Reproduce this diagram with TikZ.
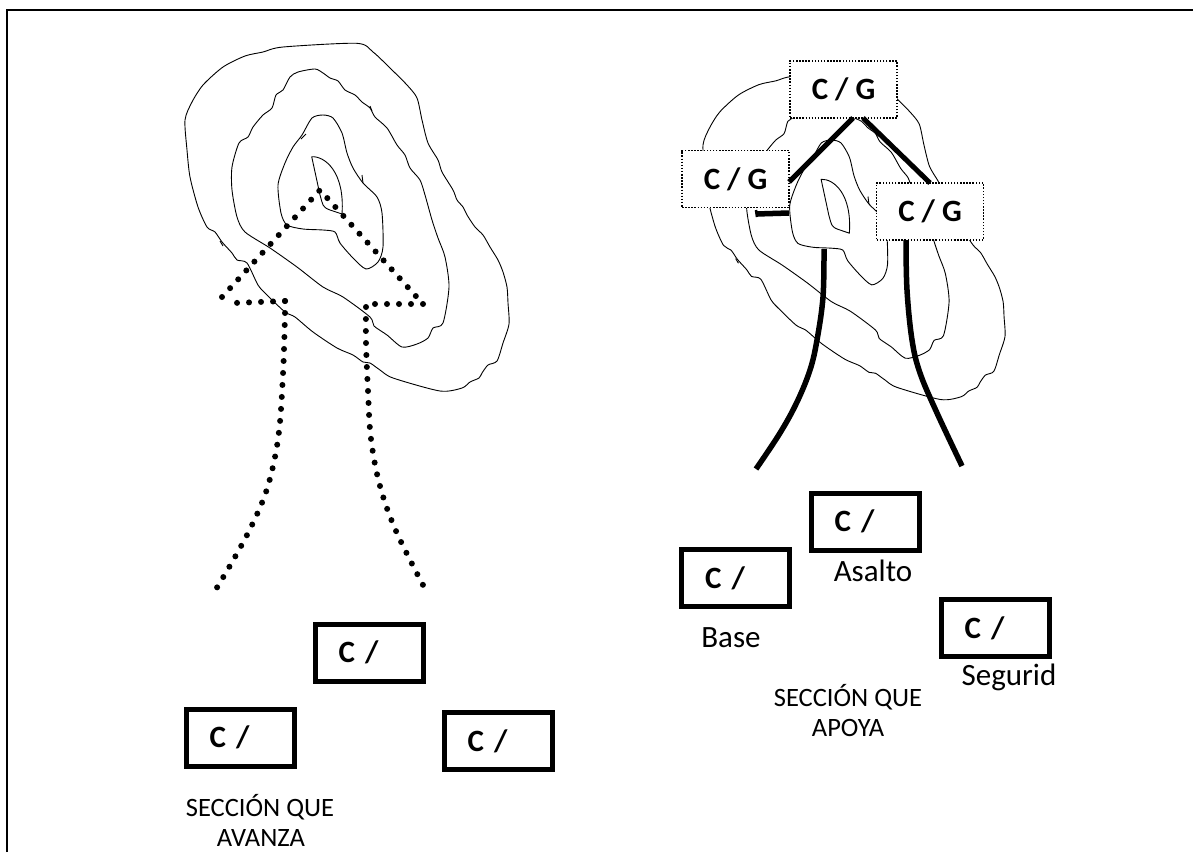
\documentclass[tikz,border=0pt]{standalone}
\usepackage{fontspec}
\setmainfont{Carlito}
\usetikzlibrary{calc}
\tikzset{
  contour/.style={draw=black,line width=0.9pt,line join=round},
  dotline/.style={draw=black,line width=6pt,line cap=round,dash pattern=on 0pt off 12pt},
  thick line/.style={draw=black,line width=5pt},
  cbox/.style={draw=black,fill=white,line width=5pt,minimum height=57pt,inner xsep=23.5pt,inner ysep=0pt,text width=61pt,align=left,outer sep=0pt,font=\fontsize{31}{31}\selectfont\bfseries},
  gbox/.style={draw=black,fill=white,line width=1.4pt,dash pattern=on 1.5pt off 1.6pt,minimum width=107pt,minimum height=57pt,inner sep=0pt,outer sep=0pt,font=\fontsize{31}{31}\selectfont\bfseries},
  lbl/.style={inner sep=0pt,font=\fontsize{31}{31}\selectfont},
  lblsmall/.style={inner sep=0pt,font=\fontsize{26.5}{26.5}\selectfont}
}
\newcommand\hillcontours{%
  \draw[contour] plot[smooth cycle,tension=.45] coordinates {(356.7,43.3) (373,52) (390,68) (407,85) (417,98) (422,120) (428,143) (438,160) (442,172) (453,190) (457,200) (463,207) (467,215) (475,227) (483,235) (490,247) (498,260) (503,272) (507,287) (508,303) (509,324) (503,343) (497,361) (488,365) (482,373) (479,378) (470,382) (462,388) (440,391) (393,378) (380,370) (370,363) (363,362) (353,355) (337,348) (313,332) (295,317) (285,312) (267,295) (258,285) (247,263) (237,260) (232,253) (222,242) (215,232) (207,227) (198,207) (190,177) (187,150) (185,120) (192,102) (203,85) (223,67) (245,56) (263,52) (283,47)};
  \draw[contour] plot[smooth cycle,tension=.45] coordinates {(315,69) (323,73) (330,78) (338,81) (345,90) (355,95) (362,102) (370,108) (375,117) (387,128) (397,145) (405,155) (410,168) (420,180) (425,195) (432,220) (438,238) (445,257) (449,287) (443,323) (433,328) (428,338) (417,344) (402,347) (387,335) (374,326) (370,317) (343,297) (323,287) (297,267) (270,248) (245,232) (237,217) (232,190) (232,167) (239,143) (248,137) (253,127) (263,115) (272,108) (276,95) (283,90) (290,77) (298,72)};
  \draw[contour] plot[smooth cycle,tension=.45] coordinates {(323,115) (333,118) (342,133) (347,153) (353,168) (363,183) (377,197) (382,213) (383,247) (378,262) (366,269) (353,258) (340,243) (335,232) (323,230) (303,229) (287,225) (281,213) (278,185) (285,163) (293,147) (302,135) (312,118)};
  \draw[contour] (311.7,156.7) .. controls (325,156) and (345,172) .. (342,214) -- (330,210) .. controls (322,207) and (323,205) .. (320,195) -- cycle;
  \draw[contour] (301,139) -- (306,134) (362,175) -- (363,183) (370,106) -- (372,111) (220,241) -- (223,246);
}
\begin{document}
\begin{tikzpicture}[x=1pt,y=-1pt]
\useasboundingbox (0,0) rectangle (1193,852);
% frame
\draw[line width=2pt,line cap=butt] (7,852) -- (7,9.5) -- (1193,9.5);

% left hill
\hillcontours

% right hill
\begin{scope}[x=.932pt,y=-.94pt,shift={(530.6pt,-32pt)}]
\hillcontours
\end{scope}

% dotted advance route
\coordinate (dA) at (216.7,588);
\coordinate (dB) at (285,301);
\coordinate (dC) at (225.7,303.3);
\coordinate (dD) at (222,297);
\coordinate (dE) at (320,190);
\coordinate (dF) at (423,304);
\coordinate (dG) at (375,304);
\coordinate (dH) at (366,307);
\coordinate (dI) at (423,585);
\draw[dotline] plot[smooth,tension=.6] coordinates {(dB) (285,314) (284,350) (283,374) (280,422) (275,457) (266,492) (252,525) (235,557) (dA)};
\draw[dotline] (dB) -- (dC);
\draw[dotline] (dD) -- (dE) -- (dF);
\draw[dotline] (dF) -- (dG);
\draw[dotline] plot[smooth,tension=.6] coordinates {(dH) (366,343) (368,391) (371,439) (380,486) (396,531) (dI)};

% lower left boxes
\node[cbox,minimum width=108pt] (a1) at (369,652.5) {C /};
\node[cbox,minimum width=108pt] (a2) at (240,737.5) {\raisebox{-2.5pt}{C /}};
\node[cbox,minimum width=108pt] (a3) at (498,741) {\raisebox{-4pt}{C /}};
\node[lblsmall] (t1) at (260,807) {SECCIÓN QUE};
\node[lblsmall] (t2) at (261,838) {AVANZA};

% C/G boxes
\node[gbox] (topG) at (843.5,89.5) {C / G};
\node[gbox] (leftG) at (735.5,179) {C / G};
\node[gbox] (rightG) at (930,211.5) {C / G};

% thick connectors
\coordinate (stubEnd) at (756,214);
\coordinate (hillL) at (824,249);
\coordinate (endL) at (756,469);
\coordinate (endR) at (962,466);
\draw[thick line] ($(topG.south)+(9.5,0)$) -- ($(leftG.east)+(0,3)$);
\draw[thick line] ($(topG.south)+(19.5,0)$) -- (rightG.north);
\draw[thick line,line width=5.5pt] ($(leftG.south east)+(0,5.5)$) -- (stubEnd);
\draw[line width=2.5pt] (756,210) -- (757,217);
\draw[thick line,line width=5.5pt] plot[smooth,tension=.6] coordinates {(hillL) (823,297) (817,340) (810,370) (797,402) (780,433) (endL)};
\draw[thick line,line width=5.5pt] plot[smooth,tension=.6] coordinates {($(rightG.south)+(-24,0)$) (907,290) (912,340) (920,373) (937,413) (endR)};

% lower right boxes
\node[cbox,minimum width=108pt] (b1) at (735.5,578) {\raisebox{-4pt}{C /}};
\node[cbox,minimum width=108pt] (b2) at (865,521.5) {\raisebox{-2pt}{C /}};
\node[cbox,minimum width=108pt] (b3) at (995,628) {\raisebox{-5pt}{C /}};
\node[lbl] (n1) at (731,638) {Base};
\node[lbl] (n2) at (873,571) {Asalto};
\node[lbl] (n3) at (1009,677) {Segurid};
\node[lblsmall] (t3) at (848,697) {SECCIÓN QUE};
\node[lblsmall] (t4) at (848,728) {APOYA};
\end{tikzpicture}
\end{document}
